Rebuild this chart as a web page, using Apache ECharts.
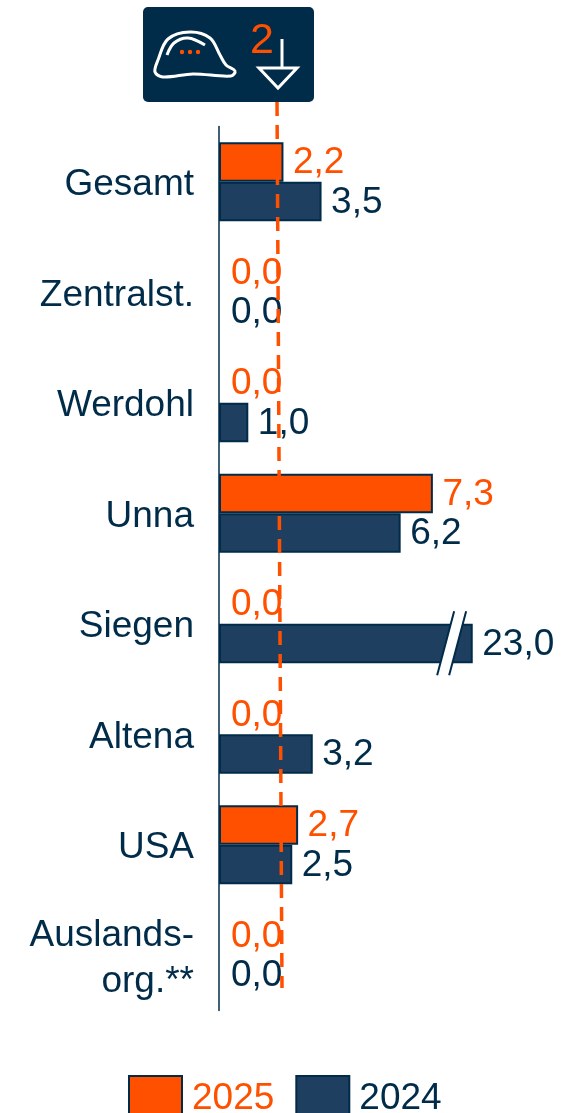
<!DOCTYPE html>
<html>
<head>
<meta charset="utf-8">
<style>html,body{margin:0;padding:0;background:#fff;overflow:hidden}</style>
<script src="https://cdn.jsdelivr.net/npm/echarts@6/dist/echarts.min.js"></script>
</head>
<body>
<div id="main" style="width:566px;height:1113px"></div>
<script>
const categories = ["Gesamt", "Zentralst.", "Werdohl", "Unna", "Siegen", "Altena", "USA", "Auslands-\norg.**"]
const values2025 = [2.2, 0, 0, 7.3, 0, 0, 2.7, 0]
const values2024 = [3.5, 0, 1.0, 6.2, 23.0, 3.2, 2.5, 0]
const targetValue = 2
const targetLabel = "2"
// the Siegen bar is cut off in the chart, it stops here and gets a break mark
const axisCut = 8.66
const breakAt = 7.94

const NAVY = "#002b49"
const BAR_NAVY = "#1f3f60"
const ORANGE = "#ff5000"
const FONT = "Liberation Sans"

const fmt = v => v.toFixed(1).replace(".", ",")

// zero bars draw no border and their label sits a bit further out
const barData = values => values.map(v => v === 0
    ? { value: 0, itemStyle: { borderWidth: 0, borderColor: "transparent", color: "transparent" }, label: { distance: 12 } }
    : Math.min(v, axisCut))

let myChart = echarts.init(document.getElementById("main"), null, { renderer: "canvas" })

let option = {
    animation: false,
    textStyle: { fontFamily: FONT },
    grid: { left: 219, top: 126.5, width: 293, height: 884, containLabel: false },
    legend: {
        left: 128,
        top: 1075,
        padding: 0,
        itemWidth: 53,
        itemHeight: 45,
        itemGap: 21,
        selectedMode: false,
        data: [
            { name: "2025", icon: "rect", textStyle: { color: ORANGE, fontSize: 37, padding: [0, 0, 0, 5], fontFamily: FONT } },
            { name: "2024", icon: "rect", textStyle: { color: NAVY, fontSize: 37, padding: [0, 0, 0, 5], fontFamily: FONT } }
        ]
    },
    xAxis: {
        type: "value",
        min: 0,
        max: 10,
        show: false
    },
    yAxis: {
        type: "category",
        inverse: true,
        data: categories,
        axisLine: { lineStyle: { color: NAVY, width: 1.5 } },
        axisTick: { show: false },
        axisLabel: {
            color: NAVY,
            fontSize: 37,
            fontFamily: FONT,
            margin: 25,
            lineHeight: 46,
            padding: [7, 0, 0, 0],
            formatter: v => v.split("\n").map(l => "{a|" + l + "}").join("\n"),
            rich: { a: { color: NAVY, fontSize: 37, fontFamily: FONT, lineHeight: 46 } }
        }
    },
    series: [
        {
            name: "2025",
            type: "bar",
            barWidth: 39.5,
            barGap: "0%",
            data: barData(values2025),
            itemStyle: { color: ORANGE, borderColor: NAVY, borderWidth: 2 },
            label: {
                show: true,
                position: "right",
                distance: 9.5,
                offset: [0, 1],
                color: ORANGE,
                fontSize: 37,
                fontFamily: FONT,
                formatter: p => fmt(values2025[p.dataIndex])
            },
            markLine: {
                silent: true,
                symbol: "none",
                animation: false,
                label: { show: false },
                lineStyle: { color: ORANGE, type: [14, 9], width: 3.5 },
                data: [[{ xAxis: targetValue - 0.02, y: 102 }, { xAxis: targetValue + 0.15, y: 988 }]]
            }
        },
        {
            name: "2024",
            type: "bar",
            barWidth: 39.5,
            data: barData(values2024),
            itemStyle: { color: BAR_NAVY, borderColor: NAVY, borderWidth: 2 },
            label: {
                show: true,
                position: "right",
                distance: 9.5,
                offset: [0, 1],
                color: NAVY,
                fontSize: 37,
                fontFamily: FONT,
                formatter: p => fmt(values2024[p.dataIndex])
            }
        },
        {
            // axis break on the Siegen bar
            type: "custom",
            silent: true,
            z: 5,
            data: [[breakAt, 4]],
            encode: { x: 0, y: 1 },
            renderItem: (params, api) => {
                let c = api.coord([api.value(0), api.value(1)])
                let x = c[0], y = c[1] + 19.5
                let h = 32, s = 8.5, g = 6
                return {
                    type: "group",
                    children: [
                        { type: "polygon", shape: { points: [[x - g - s, y + h], [x - g + s, y - h], [x + g + s, y - h], [x + g - s, y + h]] }, style: { fill: "#fff" } },
                        { type: "line", shape: { x1: x - g - s, y1: y + h, x2: x - g + s, y2: y - h }, style: { stroke: NAVY, lineWidth: 2 } },
                        { type: "line", shape: { x1: x + g - s, y1: y + h, x2: x + g + s, y2: y - h }, style: { stroke: NAVY, lineWidth: 2 } }
                    ]
                }
            }
        }
    ],
    graphic: [
        { type: "rect", left: 143, top: 7, shape: { width: 171, height: 95, r: 5 }, style: { fill: NAVY } },
        // helmet
        { type: "polygon", shape: { points: [[158, 60], [168, 39], [190, 32], [210, 38], [220, 55], [226, 65], [235, 71], [231, 76], [193, 74], [163, 77], [155, 72]], smooth: 0.35 }, style: { fill: "none", stroke: "#fff", lineWidth: 3 } },
        { type: "polyline", shape: { points: [[167, 55], [174, 43], [188, 38], [205, 45]], smooth: 0.35 }, style: { fill: "none", stroke: "#fff", lineWidth: 3 } },
        { type: "circle", shape: { cx: 182, cy: 52, r: 2.2 }, style: { fill: ORANGE } },
        { type: "circle", shape: { cx: 190, cy: 52, r: 2.2 }, style: { fill: ORANGE } },
        { type: "circle", shape: { cx: 198, cy: 52, r: 2.2 }, style: { fill: ORANGE } },
        // arrow
        { type: "polyline", shape: { points: [[282, 39], [282, 68]] }, style: { stroke: "#fff", lineWidth: 3, fill: "none" } },
        { type: "polygon", shape: { points: [[259, 68], [297, 68], [278, 88]] }, style: { fill: "none", stroke: "#fff", lineWidth: 3 } },
        { type: "text", left: 250, top: 20, style: { text: targetLabel, fill: ORANGE, font: "43px 'Liberation Sans'" } }
    ]
}
myChart.setOption(option)
</script>
</body>
</html>
